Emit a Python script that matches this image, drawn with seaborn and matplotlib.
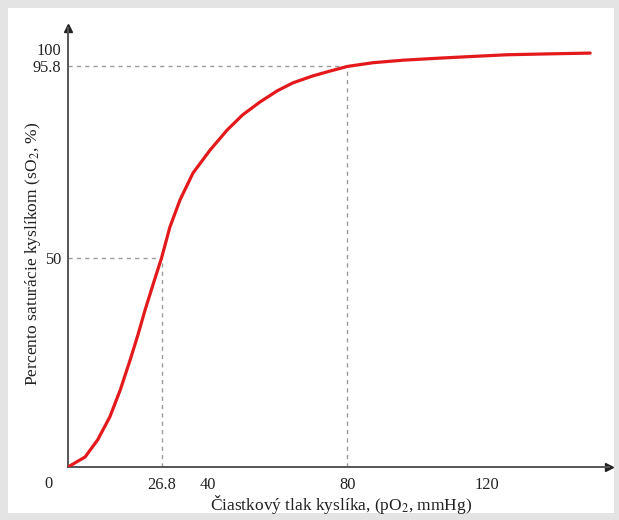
import matplotlib
matplotlib.use("Agg")
import matplotlib.pyplot as plt
import seaborn as sns
import pandas as pd
from matplotlib.patches import Rectangle

# Krivka saturácie hemoglobínu kyslíkom (hodnoty odčítané z obrázka)
po2 = [0, 4.9, 8.5, 12.0, 15.0, 17.8, 20.0, 22.1, 24.5, 26.8, 29.2, 32.1,
       35.8, 40.7, 45.6, 50.0, 55.0, 60.0, 64.5, 70.0, 74.2, 80.0, 87.4,
       96.0, 106.6, 116.0, 125.8, 137.0, 149.6]
so2 = [0, 2.4, 6.5, 12.0, 18.5, 25.6, 31.5, 37.6, 44.0, 50.0, 57.4, 63.9,
       70.3, 75.8, 80.6, 84.2, 87.3, 90.0, 91.9, 93.5, 94.5, 95.8, 96.7,
       97.3, 97.8, 98.2, 98.6, 98.8, 99.0]

x_ticks = [26.8, 40, 80, 120]
x_labels = ["26.8", "40", "80", "120"]
y_ticks = [50, 95.8, 100]
y_labels = ["50", "95.8", "100"]

# referenčné body (pO2, sO2)
ref_x = [26.8, 80]
ref_y = [50, 95.8]

sns.set_theme(style="white")
plt.rcParams["font.family"] = ["Liberation Serif", "DejaVu Serif"]
plt.rcParams["mathtext.fontset"] = "stix"

fig = plt.figure(figsize=(6.19, 5.2), dpi=100, facecolor="#e4e4e4")
fig.patches.append(Rectangle((8 / 619, 7 / 520), 606 / 619, 505 / 520,
                             transform=fig.transFigure, facecolor="white",
                             edgecolor="none", zorder=-5))
ax = fig.add_axes([68 / 619, 53 / 520, 541 / 619, 439 / 520])
ax.set_facecolor("none")
ax.set_zorder(5)

df = pd.DataFrame({"pO2": po2, "sO2": so2})
sns.lineplot(data=df, x="pO2", y="sO2", ax=ax, color="#e3191c",
             linewidth=2.3, zorder=3)

# prerušované čiary
dash = dict(color="#9a9a9a", linewidth=1.0, linestyle=(0, (3, 3)), zorder=1)
for rx, ry in zip(ref_x, ref_y):
    ax.plot([0, rx], [ry, ry], **dash)
    ax.plot([rx, rx], [0, ry], **dash)

ax.set_xlim(0, 155)
ax.set_ylim(0, 105)

for s in ["top", "right"]:
    ax.spines[s].set_visible(False)
for s in ["left", "bottom"]:
    ax.spines[s].set_color("#555555")
    ax.spines[s].set_linewidth(1.4)

ax.plot(1, 0, ">", color="#222222", markersize=6,
        transform=ax.get_yaxis_transform(), clip_on=False)
ax.plot(0, 1, "^", color="#222222", markersize=6,
        transform=ax.get_xaxis_transform(), clip_on=False)

ax.set_xticks(x_ticks)
ax.set_xticklabels(x_labels)
ax.set_yticks(y_ticks)
ax.set_yticklabels(y_labels)
ax.tick_params(axis="x", length=0, pad=7, labelsize=11.8, labelcolor="#222222")
ax.tick_params(axis="y", length=0, pad=5, labelsize=11.8, labelcolor="#222222")

ax.annotate("0", xy=(0, 0), xytext=(-14, -12), textcoords="offset points",
            ha="center", va="center", fontsize=11.8, color="#222222")

ax.set_xlabel("Čiastkový tlak kyslíka, (pO$_2$, mmHg)", fontsize=12.5,
              color="#222222")
ax.set_ylabel("Percento saturácie kyslíkom (sO$_2$, %)", fontsize=12.6,
              color="#222222")
ax.yaxis.set_label_coords(-0.047, 0.485)
ax.xaxis.set_label_coords(0.505, -0.06)

fig.savefig("out.png", dpi=100, facecolor=fig.get_facecolor())
